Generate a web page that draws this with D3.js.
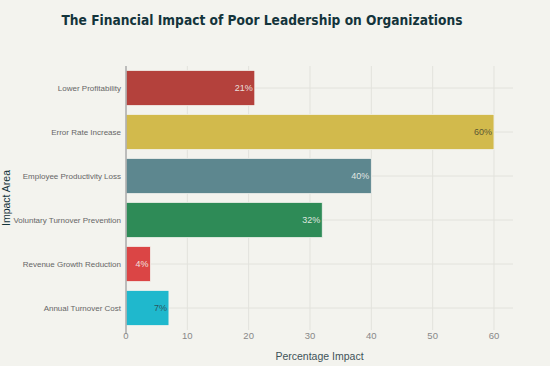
<!DOCTYPE html>
<html><head><meta charset="utf-8">
<script src="https://cdn.jsdelivr.net/npm/d3@7"></script>
<style>body{margin:0;background:#F3F3EE;}svg{display:block;font-family:"Liberation Sans",Arial,sans-serif;}</style>
</head><body>
<script>
const categories = ["Lower Profitability","Error Rate Increase","Employee Productivity Loss","Voluntary Turnover Prevention","Revenue Growth Reduction","Annual Turnover Cost"];
const values = [21, 60, 40, 32, 4, 7];
const colors = ["#B4413C","#D2BA4C","#5D878F","#2E8B57","#DB4545","#1FB8CD"];
const labelColors = ["#F3F3EE","#4A4A30","#F3F3EE","#F3F3EE","#F3F3EE","#2A4A50"];
const xTicks = [0,10,20,30,40,50,60];
const title = "The Financial Impact of Poor Leadership on Organizations";
const xTitle = "Percentage Impact";
const yTitle = "Impact Area";

const W = 550, H = 366;
const m = {l:126, r:37, t:66, b:36};
const svg = d3.select("body").append("svg").attr("width",W).attr("height",H);
svg.append("rect").attr("width",W).attr("height",H).attr("fill","#F3F3EE");

const x = d3.scaleLinear().domain([0,63.1]).range([m.l, W-m.r]);
const y = d3.scaleBand().domain(categories).range([m.t, H-m.b]).paddingInner(0.2).paddingOuter(0.1);

// grid
svg.append("g").selectAll("line").data(xTicks.slice(1)).join("line")
  .attr("x1",d=>x(d)).attr("x2",d=>x(d)).attr("y1",m.t).attr("y2",H-m.b)
  .attr("stroke","#E2E2DC").attr("stroke-width",1);
svg.append("g").selectAll("line").data(categories).join("line")
  .attr("x1",m.l).attr("x2",W-m.r).attr("y1",d=>y(d)+y.bandwidth()/2).attr("y2",d=>y(d)+y.bandwidth()/2)
  .attr("stroke","#E2E2DC").attr("stroke-width",1);

// bars
svg.append("g").selectAll("rect").data(categories).join("rect")
  .attr("x",x(0)).attr("y",d=>y(d)).attr("width",(d,i)=>x(values[i])-x(0)).attr("height",y.bandwidth())
  .attr("fill",(d,i)=>colors[i]).attr("stroke","#F3F3EE").attr("stroke-width",0.8);

// bar labels
svg.append("g").selectAll("text").data(categories).join("text")
  .attr("x",(d,i)=>x(values[i])-2).attr("y",d=>y(d)+y.bandwidth()/2).attr("dy","0.35em")
  .attr("text-anchor","end").attr("font-size",9).attr("fill",(d,i)=>labelColors[i]).attr("fill-opacity",0.9)
  .text((d,i)=>values[i]+"%");

// zero line
svg.append("line").attr("x1",x(0)).attr("x2",x(0)).attr("y1",m.t).attr("y2",H-m.b+4)
  .attr("stroke","#AAAAAA").attr("stroke-width",1.5);

// x ticks
svg.append("g").selectAll("text").data(xTicks).join("text")
  .attr("x",d=>x(d)).attr("y",H-m.b+9).attr("text-anchor","middle").attr("font-size",9.5).attr("fill","#888")
  .text(d=>d);

// y labels
svg.append("g").selectAll("text").data(categories).join("text")
  .attr("x",m.l-5).attr("y",d=>y(d)+y.bandwidth()/2).attr("dy","0.35em").attr("text-anchor","end")
  .attr("font-size",8).attr("fill","#666").text(d=>d);

// titles
svg.append("text").attr("x",262).attr("y",25).attr("text-anchor","middle")
  .attr("font-family","'DejaVu Sans',Verdana,sans-serif").attr("font-weight","bold").attr("font-size",14.5)
  .attr("textLength",401).attr("lengthAdjust","spacingAndGlyphs")
  .attr("fill","#13343B").text(title);
svg.append("text").attr("x",(m.l+W-m.r)/2).attr("y",360).attr("text-anchor","middle")
  .attr("font-size",10.5).attr("fill","#3E5258").text(xTitle);
svg.append("text").attr("transform",`translate(10,${(m.t+H-m.b)/2}) rotate(-90)`).attr("text-anchor","middle")
  .attr("font-size",10.5).attr("fill","#13343B").text(yTitle);
</script>
</body></html>
